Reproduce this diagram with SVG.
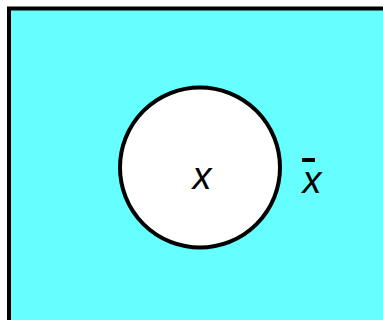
<svg xmlns="http://www.w3.org/2000/svg" width="383" height="320" viewBox="0 0 383 320">
<style>
.lbl{font-family:"Liberation Sans",Arial,sans-serif;font-style:italic;font-size:38px;fill:#000}
</style>
<g id="universe">
<rect x="9" y="8.5" width="400" height="340" fill="#66FFFF" stroke="#000" stroke-width="4"/>
</g>
<g id="set-x">
<circle cx="200" cy="167.5" r="80" fill="#fff" stroke="#000" stroke-width="4"/>
<text class="lbl" x="202" y="189" text-anchor="middle">x</text>
</g>
<g id="complement">
<line x1="302" y1="160" x2="315" y2="160" stroke="#000" stroke-width="4"/>
<text class="lbl" x="312" y="193" text-anchor="middle">x</text>
</g>
<g id="connectors"></g>
</svg>
